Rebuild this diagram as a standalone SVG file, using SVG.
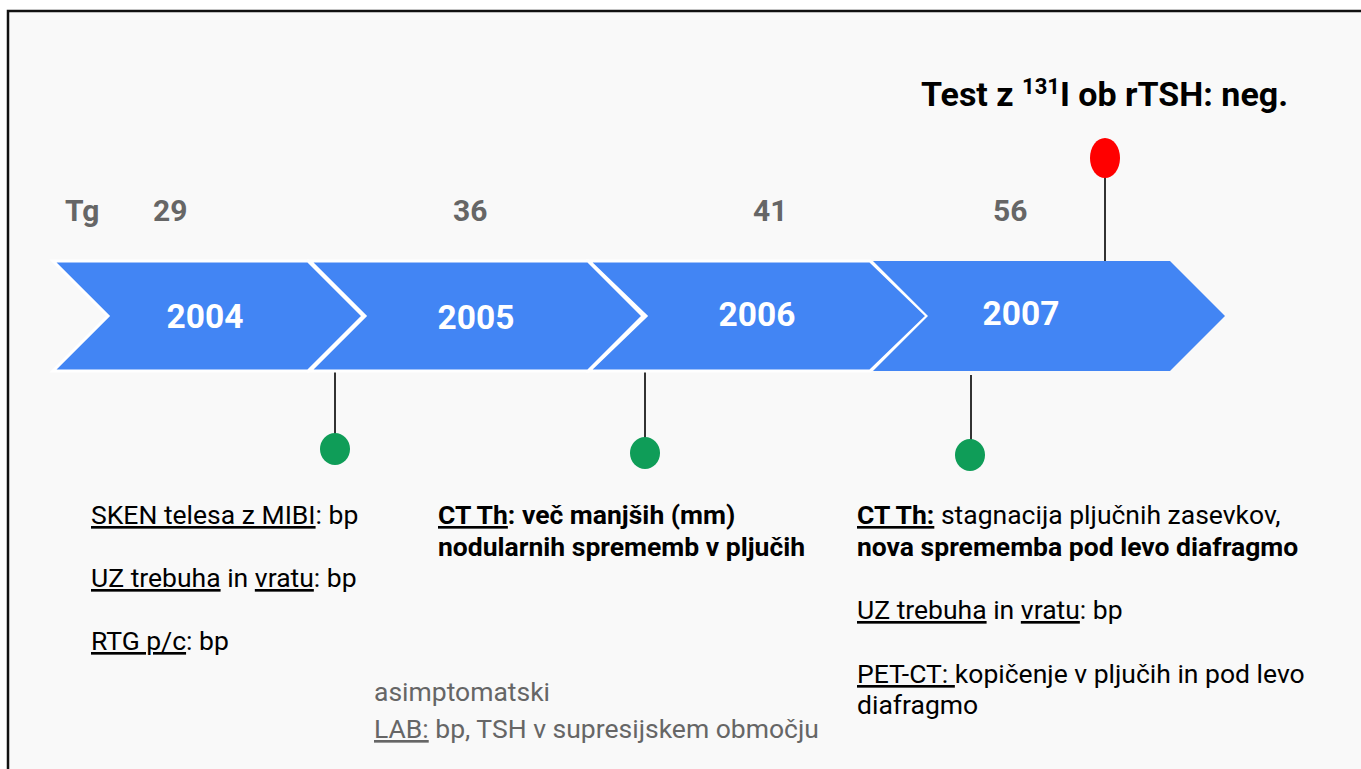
<svg xmlns="http://www.w3.org/2000/svg" width="1361" height="769" viewBox="0 0 1361 769">
<style>
text{font-family:Roboto,"Liberation Sans",sans-serif}
.chev{fill:#4285f4;stroke:#fff;stroke-width:3}
.yr{fill:#fff;font-size:33.5px;font-weight:700;text-anchor:middle}
.tg{fill:#666;font-size:30px;font-weight:700}
.body{fill:#000;font-size:26.5px}
.gray{fill:#666;font-size:26.5px}
.b{font-weight:700}
.u{text-decoration:underline}
.stem{stroke:#333;stroke-width:2}
.dot{fill:#0f9d58}
</style>
<rect x="0" y="0" width="1361" height="769" fill="#fff"/>
<rect x="8" y="11" width="1365" height="770" fill="#f9f9f9" stroke="#111" stroke-width="2.5"/>
<g id="connectors">
<line class="stem" x1="335" y1="371" x2="335" y2="440"/>
<line class="stem" x1="645" y1="371" x2="645" y2="445"/>
<line class="stem" x1="971" y1="375" x2="971" y2="447"/>
<line class="stem" x1="1105" y1="175" x2="1105" y2="261"/>
</g>
<g id="chevron-2004"><polygon class="chev" points="53,261 308,261 363,316 308,371 53,371 108,316"/><text class="yr" x="205" y="328">2004</text></g>
<g id="chevron-2005"><polygon class="chev" points="310,261 588,261 643,316 588,371 310,371 365,316"/><text class="yr" x="476" y="329">2005</text></g>
<g id="chevron-2006"><polygon class="chev" points="589,261 870,261 927,316 870,371 589,371 646,316"/><text class="yr" x="757" y="326">2006</text></g>
<g id="chevron-2007"><polygon class="chev" points="873,261 1170,261 1225,316 1170,371 873,371 928,316" style="stroke:none"/><text class="yr" x="1021" y="325">2007</text></g>
<g id="tg-values">
<text class="tg" x="65" y="221">Tg</text>
<text class="tg" x="153" y="221">29</text>
<text class="tg" x="453" y="221">36</text>
<text class="tg" x="753" y="221">41</text>
<text class="tg" x="993" y="221">56</text>
</g>
<g id="dot-2004"><ellipse class="dot" cx="335" cy="449" rx="15" ry="16"/></g>
<g id="dot-2005"><ellipse class="dot" cx="645" cy="453" rx="15" ry="16"/></g>
<g id="dot-2007"><ellipse class="dot" cx="970" cy="455" rx="15" ry="16"/></g>
<g id="dot-test"><ellipse cx="1105" cy="158" rx="15" ry="20" fill="#ff0000"/></g>
<g id="test-label"><text x="921" y="106" font-size="34" font-weight="700" fill="#000">Test z <tspan font-size="22" dy="-12">131</tspan><tspan dy="12">I ob rTSH: neg.</tspan></text></g>
<g id="notes-2004">
<text class="body" x="91" y="524"><tspan class="u">SKEN telesa z MIBI</tspan>: bp</text>
<text class="body" x="91" y="587"><tspan class="u">UZ trebuha</tspan> in <tspan class="u">vratu</tspan>: bp</text>
<text class="body" x="91" y="650"><tspan class="u">RTG p/c</tspan>: bp</text>
</g>
<g id="notes-2005">
<text class="body b" x="438" y="524"><tspan class="u">CT Th</tspan>: več manjših (mm)</text>
<text class="body b" x="438" y="556">nodularnih sprememb v pljučih</text>
</g>
<g id="notes-general">
<text class="gray" x="374" y="701">asimptomatski</text>
<text class="gray" x="374" y="738"><tspan class="u">LAB:</tspan> bp, TSH v supresijskem območju</text>
</g>
<g id="notes-2007">
<text class="body" x="857" y="524"><tspan class="u b">CT Th:</tspan> stagnacija pljučnih zasevkov,</text>
<text class="body b" x="857" y="556">nova sprememba pod levo diafragmo</text>
<text class="body" x="857" y="619"><tspan class="u">UZ trebuha</tspan> in <tspan class="u">vratu</tspan>: bp</text>
<text class="body" x="857" y="683"><tspan class="u">PET-CT: </tspan>kopičenje v pljučih in pod levo</text>
<text class="body" x="857" y="714">diafragmo</text>
</g>
</svg>
